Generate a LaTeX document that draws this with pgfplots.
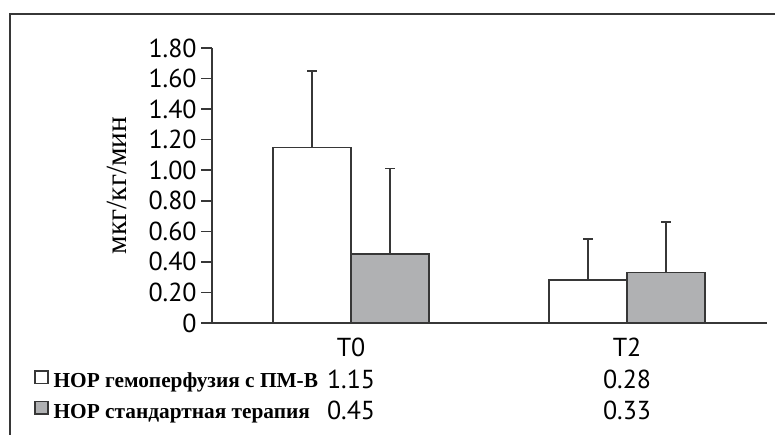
\documentclass[border=0pt]{standalone}
\usepackage{pgfplots}
\pgfplotsset{compat=1.18}
\usepackage{fontspec}
\setmainfont{Liberation Serif}
\newfontfamily\numfont{PT Sans}
\definecolor{barg}{RGB}{176,177,179}
\definecolor{edge}{RGB}{55,55,55}
\begin{document}
\begin{tikzpicture}
\path[use as bounding box] (-159pt,-84pt) rectangle (422.25pt,242.25pt);
\draw[edge, line width=1.2pt] (-151.5pt,-90pt) -- (-151.5pt,231.75pt) -- (430pt,231.75pt);
\begin{axis}[
  at={(0pt,0pt)}, anchor=south west,
  scale only axis, width=416.25pt, height=206.25pt,
  xmin=-0.504, xmax=1.507, ymin=0, ymax=1.8,
  axis lines*=left,
  axis line style={edge, line width=1.2pt},
  ybar=0pt, bar width=58.5pt,
  xtick={0,1},
  xticklabels={{T0\\1.15\\0.45},{T2\\0.28\\0.33}},
  x tick label style={align=center, font=\numfont\fontsize{19.5}{23.6}\selectfont},
  xtick style={draw=none},
  ytick={0,0.2,...,1.8},
  /pgf/number format/assume math mode=true,
  yticklabel={\ifdim\tick pt<0.01pt 0\else\pgfmathprintnumber[fixed,fixed zerofill,precision=2]{\tick}\fi},
  y tick label style={font=\numfont\fontsize{19.5}{22}\selectfont, text=black},
  ytick style={edge, line width=1.2pt},
  tick align=outside, major tick length=8pt,
  ylabel={мкг/кг/мин},
  ylabel style={at={(axis description cs:-0.171,0.5)}, anchor=center, font=\fontsize{22}{25}\selectfont},
  legend style={at={(axis description cs:-0.3207,-0.1709)}, anchor=north west, draw=none, fill=none,
    font=\bfseries\fontsize{16}{19}\selectfont, inner sep=0pt, row sep=6pt,
    nodes={text height=11pt, text depth=4pt, inner sep=0pt, anchor=west}},
  legend cell align=left,
  legend image code/.code={\draw[#1, line width=1pt, bar shift=0pt] (0pt,-0.3pt) rectangle (9.75pt,9pt);
    \path[draw=none, fill=none] (0pt,0pt) -- (14pt,0pt);},
]
\addplot[fill=white, draw=edge, line width=1.2pt,
  error bars/.cd, y dir=plus, y explicit,
  error bar style={edge, line width=1.2pt},
  error mark options={rotate=90, mark size=3.75pt, edge, line width=1.2pt}]
  coordinates {(0,1.15) +- (0,0.50) (1,0.28) +- (0,0.27)};
\addlegendentry{НОР гемоперфузия с ПМ-В}
\addplot[fill=barg, draw=edge, line width=1.2pt,
  error bars/.cd, y dir=plus, y explicit,
  error bar style={edge, line width=1.2pt},
  error mark options={rotate=90, mark size=3.75pt, edge, line width=1.2pt}]
  coordinates {(0,0.45) +- (0,0.56) (1,0.33) +- (0,0.33)};
\addlegendentry{НОР стандартная терапия}
\end{axis}
\end{tikzpicture}
\end{document}
